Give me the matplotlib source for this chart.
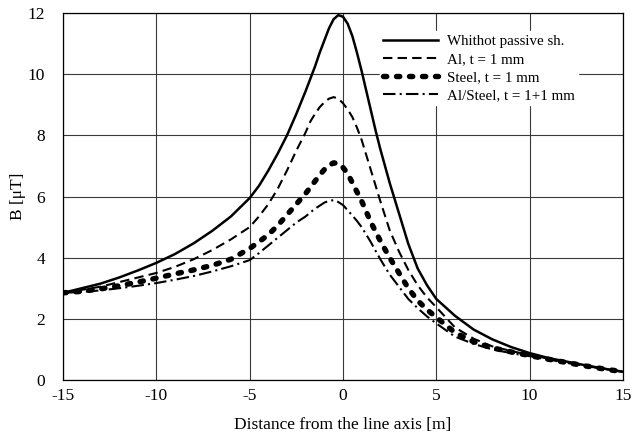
import matplotlib
matplotlib.use("Agg")
import matplotlib.pyplot as plt

# ── Data ──────────────────────────────────────────────────────────────────────
dist = [-15, -14, -13, -12, -11, -10, -9, -8, -7, -6, -5,
        -4.5, -4, -3.5, -3, -2.5, -2, -1.75, -1.5, -1.25, -1, -0.75, -0.5, -0.25,
        0, 0.25, 0.5, 0.75, 1, 1.25, 1.5, 1.75, 2, 2.5, 3, 3.5, 4, 4.5,
        5, 6, 7, 8, 9, 10, 11, 12, 13, 14, 15]

b_none = [2.85, 3.0, 3.15, 3.35, 3.58, 3.83, 4.12, 4.47, 4.88, 5.35, 5.95,
          6.35, 6.85, 7.4, 8.0, 8.7, 9.45, 9.85, 10.25, 10.7, 11.1, 11.5, 11.8, 11.93,
          11.88, 11.65, 11.25, 10.7, 10.1, 9.45, 8.8, 8.15, 7.55, 6.45, 5.45, 4.45, 3.65, 3.1,
          2.65, 2.1, 1.65, 1.33, 1.08, 0.88, 0.72, 0.6, 0.48, 0.37, 0.27]

b_al = [2.85, 2.95, 3.05, 3.2, 3.35, 3.5, 3.7, 3.95, 4.25, 4.6, 5.0,
        5.35, 5.75, 6.25, 6.85, 7.5, 8.1, 8.45, 8.7, 8.92, 9.08, 9.2, 9.25, 9.2,
        9.05, 8.85, 8.6, 8.25, 7.85, 7.35, 6.85, 6.35, 5.85, 4.9, 4.2, 3.6, 3.1, 2.7,
        2.38, 1.72, 1.35, 1.1, 0.95, 0.82, 0.7, 0.58, 0.47, 0.37, 0.27]

b_steel = [2.85, 2.9, 2.98, 3.08, 3.2, 3.33, 3.47, 3.6, 3.75, 3.95, 4.3,
           4.52, 4.75, 5.05, 5.4, 5.75, 6.1, 6.3, 6.5, 6.7, 6.88, 7.02, 7.1, 7.08,
           6.95, 6.75, 6.45, 6.15, 5.85, 5.5, 5.15, 4.85, 4.55, 4.0, 3.5, 3.0, 2.6, 2.3,
           2.05, 1.55, 1.25, 1.05, 0.92, 0.8, 0.68, 0.57, 0.46, 0.36, 0.27]

b_alsteel = [2.85, 2.88, 2.93, 3.0, 3.08, 3.17, 3.28, 3.4, 3.55, 3.72, 3.92,
             4.15, 4.4, 4.65, 4.9, 5.15, 5.35, 5.48, 5.6, 5.7, 5.8, 5.86, 5.88, 5.82,
             5.72, 5.55, 5.38, 5.2, 5.0, 4.75, 4.5, 4.22, 3.95, 3.45, 3.05, 2.65, 2.35, 2.08,
             1.85, 1.42, 1.18, 1.0, 0.88, 0.78, 0.67, 0.56, 0.46, 0.36, 0.27]

labels = ["Whithot passive sh.", "Al, t = 1 mm", "Steel, t = 1 mm",
          "Al/Steel, t = 1+1 mm"]
x_ticks = [-15, -10, -5, 0, 5, 10, 15]
y_ticks = [0, 2, 4, 6, 8, 10, 12]

plt.rcParams["font.family"] = ["Liberation Serif", "DejaVu Serif"]
plt.rcParams["axes.unicode_minus"] = False

fig = plt.figure(figsize=(6.32, 4.44), dpi=100)
ax = fig.add_axes([0.0997, 0.1441, 0.886, 0.8266])

ax.plot(dist, b_none, color="black", lw=1.8, label=labels[0])
ax.plot(dist, b_al, color="black", lw=1.5, linestyle=(0, (4.5, 2.5)),
        label=labels[1])
ax.plot(dist, b_steel, color="black", lw=3.9, linestyle=(0, (0.6, 1.8)),
        dash_capstyle="round", label=labels[2])
ax.plot(dist, b_alsteel, color="black", lw=1.5, linestyle=(0, (6, 2, 1, 2)),
        label=labels[3])

ax.set_xlim(-15, 15)
ax.set_ylim(0, 12)
ax.set_xticks(x_ticks)
ax.set_yticks(y_ticks)
ax.grid(True, color="#3a3a3a", lw=0.8)
ax.set_axisbelow(True)
ax.tick_params(length=0, labelsize=12.5)
ax.tick_params(axis="y", pad=13)
ax.tick_params(axis="x", pad=6)
for s in ax.spines.values():
    s.set_linewidth(0.9)

ax.set_xlabel("Distance from the line axis [m]", fontsize=12.5, labelpad=9)
ax.set_ylabel("B [\u03bcT]", fontsize=12.5, labelpad=1)

leg = ax.legend(loc="upper right", bbox_to_anchor=(0.919, 0.95), fontsize=10.8,
                frameon=True, facecolor="white", edgecolor="white",
                framealpha=1, fancybox=False, handlelength=3.7,
                labelspacing=0.3, handletextpad=0.55, borderpad=0.2,
                borderaxespad=0)

fig.savefig("out.png", dpi=100)
